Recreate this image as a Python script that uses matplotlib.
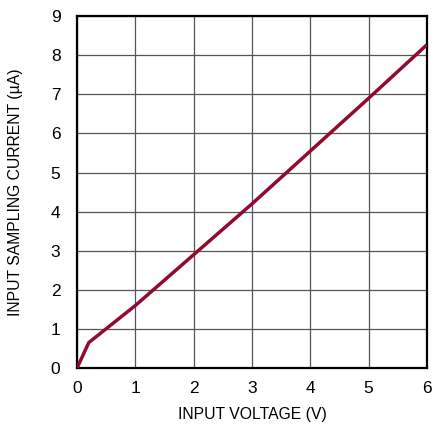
import matplotlib
matplotlib.use("Agg")
import matplotlib.pyplot as plt

# input voltage (V) vs input sampling current (uA)
voltage = [0.0, 0.2, 1.0, 2.0, 3.0, 4.0, 5.0, 6.0]
current = [0.0, 0.65, 1.6, 2.9, 4.2, 5.55, 6.9, 8.27]

LINE_COLOR = "#930a2f"

plt.rcParams["font.family"] = ["Liberation Sans", "DejaVu Sans"]

fig = plt.figure(figsize=(4.33, 4.25), dpi=100)
ax = fig.add_axes([0.178, 0.134, 0.808, 0.828])

ax.plot(voltage, current, color=LINE_COLOR, linewidth=2.5, solid_capstyle="butt", zorder=3)

ax.set_xlim(0, 6)
ax.set_ylim(0, 9)
ax.set_xticks(range(0, 7))
ax.set_yticks(range(0, 10))
ax.grid(True, color="#555555", linewidth=0.9)
ax.tick_params(axis="y", length=0, labelsize=12.5, pad=12)
ax.tick_params(axis="x", length=0, labelsize=12.5, pad=9)
for s in ax.spines.values():
    s.set_linewidth(1.6)
    s.set_color("black")

ax.set_xlabel("INPUT VOLTAGE (V)", fontsize=11.3, labelpad=8)
ax.set_ylabel("INPUT SAMPLING CURRENT (µA)", fontsize=11.3, labelpad=20)

fig.savefig("out.png", dpi=100, facecolor="white")
